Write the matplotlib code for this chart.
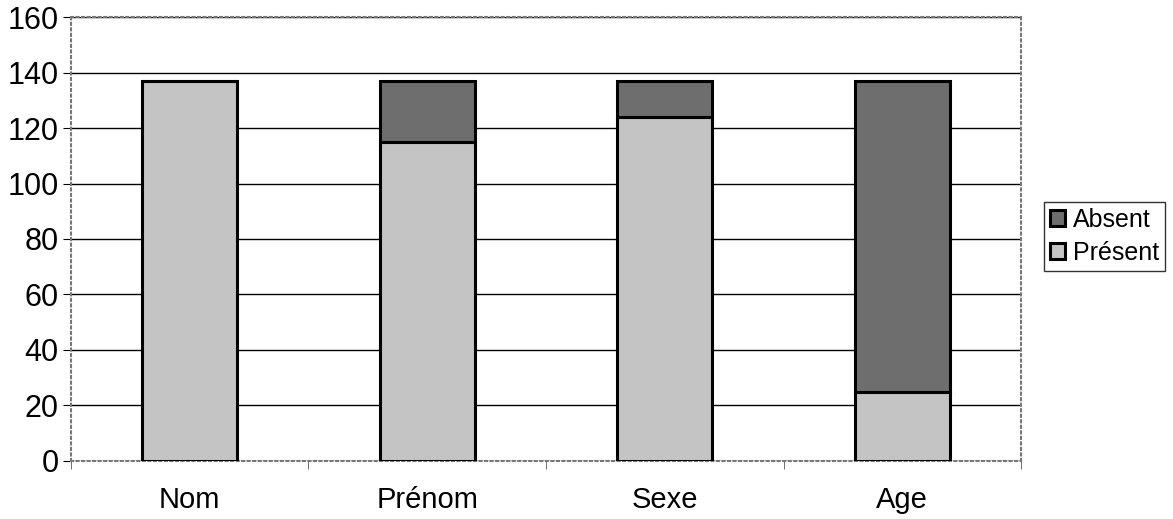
import matplotlib.pyplot as plt
import numpy as np

plt.rcParams['font.family'] = ['Liberation Sans', 'DejaVu Sans']

categories = ['Nom', 'Prénom', 'Sexe', 'Age']
present = [137, 115, 124, 25]
absent = [0, 22, 13, 112]

fig = plt.figure(figsize=(11.73, 5.19), dpi=100)
ax = fig.add_axes([0.0605, 0.112, 0.81, 0.855])

x = np.arange(len(categories))
ax.bar(x, present, width=0.4, color='#c4c4c4', edgecolor='black', linewidth=2.2,
       label='Présent', zorder=3)
ax.bar(x, absent, width=0.4, bottom=present, color='#6e6e6e', edgecolor='black',
       linewidth=2.2, label='Absent', zorder=3)

ax.set_xlim(-0.5, 3.5)
ax.set_ylim(0, 160)
ax.set_yticks(np.arange(0, 161, 20))
ax.yaxis.grid(True, color='black', linewidth=1, zorder=1)
ax.set_axisbelow(True)

ax.set_xticks(x)
ax.set_xticklabels(categories)
ax.set_xticks(np.arange(-0.5, 3.6, 1), minor=True)
ax.tick_params(axis='x', which='major', length=0, pad=18, labelsize=21)
ax.tick_params(axis='x', which='minor', length=6, color='#555555')
ax.tick_params(axis='y', length=6, labelsize=22, pad=3)

for s in ax.spines.values():
    s.set_linestyle(':')
    s.set_color('#777777')
    s.set_linewidth(1.5)

handles, labels = ax.get_legend_handles_labels()
leg = fig.legend(handles[::-1], labels[::-1], loc='center left',
                 bbox_to_anchor=(0.89, 0.545), fontsize=18, frameon=True,
                 fancybox=False, edgecolor='black', handlelength=0.6,
                 handleheight=0.6, handletextpad=0.3, borderpad=0.25,
                 labelspacing=0.35, borderaxespad=0)
leg.get_frame().set_linewidth(1)

fig.savefig('out.png', dpi=100)
